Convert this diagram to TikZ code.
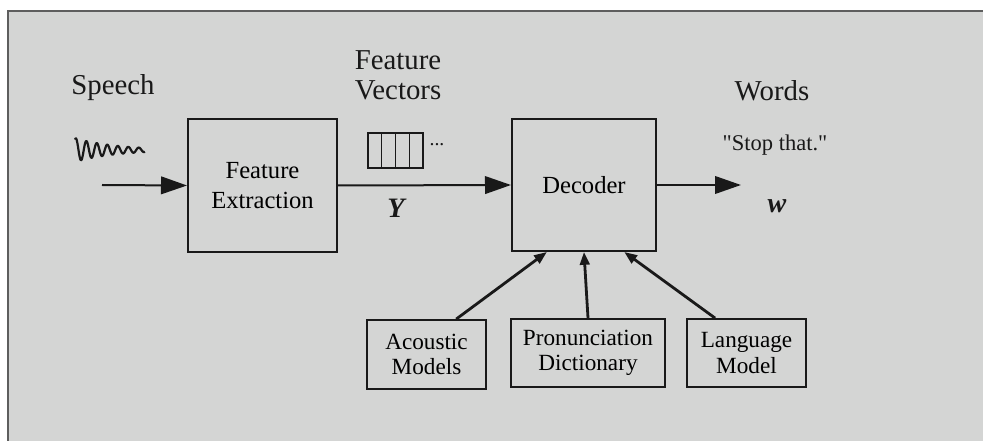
\documentclass[tikz,border=0pt]{standalone}
\usepackage{fontspec}
\setmainfont{Liberation Serif}
\newfontfamily\plainquote{Liberation Serif}
\usetikzlibrary{arrows.meta}

\definecolor{screen}{RGB}{212,213,212}
\definecolor{ink}{RGB}{25,25,25}
\tikzset{
  blockbox/.style={draw=ink,line width=0.5mm,inner sep=0pt,align=center,
    font=\fontsize{17.5}{21}\selectfont},
  modelbox/.style={draw=ink,line width=0.45mm,inner sep=0pt,align=center,
    font=\fontsize{16.5}{18}\selectfont},
  bigarrow/.style={draw=ink,line width=0.5mm,-{Triangle[length=6.5mm,width=4.4mm]}},
  smallarrow/.style={draw=ink,line width=0.7mm,-{Triangle[length=3.2mm,width=2.4mm]}},
  heading/.style={text=ink,align=center,font=\fontsize{20.5}{21.5}\selectfont}
}

\begin{document}
\begin{tikzpicture}[x=0.25mm,y=-0.25mm]
   \useasboundingbox (0,0) rectangle (983,441);
   % screen
   \fill[screen] (8,11) rectangle (983,441);
   \draw[ink!70,line width=0.3mm] (8,441) -- (8,11) -- (983,11);
   % blocks
   \node[blockbox,minimum width=37.25mm,minimum height=33.25mm] (fe) at (262.5,185.5) {Feature\\Extraction};
   \node[blockbox,minimum width=36mm,minimum height=33mm] (dec) at (584,185) {Decoder};
   \node[modelbox,minimum width=29.75mm,minimum height=17.25mm] (am) at (426.5,354.5) {Acoustic\\Models};
   \node[modelbox,minimum width=38.5mm,minimum height=17mm] (pd) at (588,353) {Pronunciation\\Dictionary};
   \node[modelbox,minimum width=29.75mm,minimum height=17mm] (lm) at (746.5,353) {Language\\Model};
   % labels
   \node[heading] (speech) at (113,88) {Speech};
   \node[heading] (fv) at (398,75) {Feature\\Vectors};
   \node[heading] (words) at (772,91) {Words};
   \node[text=ink,font=\plainquote\fontsize{16}{18}\selectfont] (stop) at (775,145) {"Stop that."};
   \node[text=ink,font=\fontsize{20}{22}\selectfont] (ylab) at (397,208) {\textbf{\textit{Y}}};
   \node[text=ink,font=\fontsize{20}{22}\selectfont] (wlab) at (777,206) {\textbf{\textit{w}}};
   % speech wave
   \draw[ink,line width=0.55mm,line join=round,domain=0:70,samples=120,variable=\t]
     plot({75+\t},{150-12*exp(-\t/40)*sin(34.3*\t+60)});
   % feature vectors
   \foreach \i in {0,...,3}
     \draw[ink,line width=0.35mm] (368+13.75*\i,133) rectangle (381.75+13.75*\i,168);
   \node[text=ink,font=\fontsize{14}{16}\selectfont] (dots) at (437,145) {...};
   % flow
   \coordinate (sin) at (102,185);
   \coordinate (wout) at (741,185);
   \draw[bigarrow] (sin) -- (fe.west);
   \draw[bigarrow] (fe.east) -- (dec.west);
   \draw[bigarrow] (dec.east) -- (wout);
   \draw[smallarrow] (am.50) -- (dec.-119);
   \draw[smallarrow] (pd.north) -- (dec.south);
   \draw[smallarrow] (lm.132) -- (dec.-59);
  \end{tikzpicture}
\end{document}
